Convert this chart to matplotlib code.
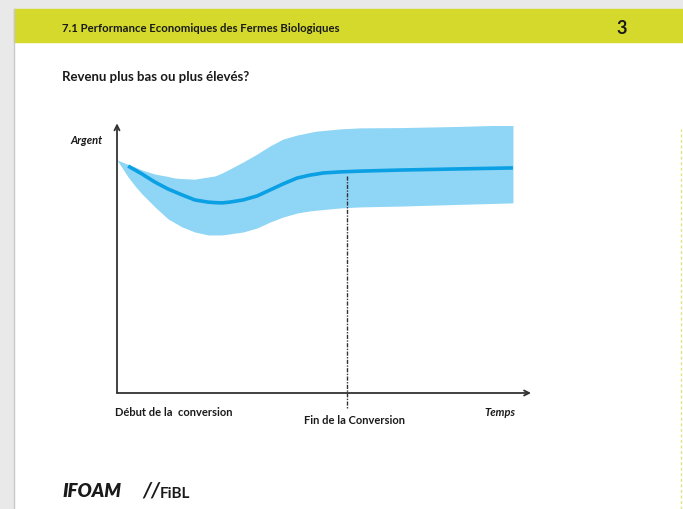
import matplotlib
matplotlib.use("Agg")
import matplotlib.pyplot as plt
from matplotlib.patches import Rectangle
from matplotlib.lines import Line2D

# data (time 0-100, money 0-100)
temps = [0, 2.7, 4.4, 6.1, 9.2, 12.4, 14.1, 15.8, 18.9, 22.1, 23.8, 25.5, 27.4,
         30.6, 34.0, 37.1, 40.3, 43.7, 46.8, 48.5, 50.0, 54.1, 59.0, 68.7, 82.0, 96.1]
revenu = [87.3, 85.0, 83.5, 82.0, 79.0, 76.4, 75.3, 74.2, 72.3, 71.5, 71.3, 71.2, 71.5,
          72.3, 73.8, 76.0, 78.3, 80.5, 81.6, 82.0, 82.4, 82.8, 83.1, 83.5, 83.9, 84.3]
revenu_haut = [87.3, 85.6, 84.6, 83.5, 82.0, 81.1, 80.5, 80.3, 80.1, 80.9, 81.3, 82.4, 83.9,
               86.5, 89.5, 92.5, 95.1, 96.6, 97.6, 98.1, 98.3, 98.9, 99.3, 99.4, 99.8, 100.4]
revenu_bas = [87.3, 80.9, 77.5, 74.5, 69.7, 65.2, 63.7, 62.2, 60.3, 59.2, 59.2, 59.2, 59.6,
              60.3, 61.8, 64.0, 65.9, 67.4, 68.2, 68.5, 68.7, 69.3, 69.7, 70.0, 70.6, 71.2]
fin_conversion = 55.8
fin_haut = 81.3

plt.rcParams['font.family'] = ['Lato', 'DejaVu Sans']

W, H = 683, 510
fig = plt.figure(figsize=(W / 100, H / 100), dpi=100)


def fx(px):
    return px / W


def fy(py):
    return 1 - py / H


# slide decoration
fig.patches.append(Rectangle((0, 0), fx(13), 1, transform=fig.transFigure,
                             color='#e9e9e9', zorder=0))
fig.patches.append(Rectangle((0, fy(10)), 1, 10 / H, transform=fig.transFigure,
                             color='#e9e9e9', zorder=0))
fig.patches.append(Rectangle((fx(14), fy(43)), 1, 33 / H, transform=fig.transFigure,
                             color='#d4d92c', zorder=1))
fig.lines.append(Line2D([fx(13.5), fx(13.5)], [0, fy(10)], transform=fig.transFigure,
                        color='#c8c8c8', lw=1))
fig.lines.append(Line2D([fx(681), fx(681)], [0, fy(130)], transform=fig.transFigure,
                        color='#e2e37a', lw=1, ls=(0, (2, 2))))

fig.text(fx(62), fy(28), '7.1 Performance Economiques des Fermes Biologiques',
         fontsize=8.2, fontweight='bold', va='center', color='#1a1a1a')
fig.text(fx(622), fy(28), '3', fontsize=13, fontweight='bold', va='center',
         ha='center', color='#1a1a1a')
fig.text(fx(62), fy(77), 'Revenu plus bas ou plus élevés?', fontsize=9.5,
         fontweight='bold', va='center', color='#1a1a1a')

# chart
ax = fig.add_axes([fx(117), fy(394), fx(412), 267 / H])
ax.set_xlim(0, 100)
ax.set_ylim(0, 100)
ax.axis('off')

ax.fill_between(temps, revenu_bas, revenu_haut, color='#8fd5f5', lw=0, zorder=1)
ax.plot(temps[1:], revenu[1:], color='#0aa0e3', lw=2.6, zorder=2,
        solid_capstyle='butt', solid_joinstyle='round')
ax.plot([fin_conversion, fin_conversion], [fin_haut, -6], color='#333333', lw=1,
        ls=(0, (3, 1, 1, 1)), zorder=3, clip_on=False)

arrow = dict(arrowstyle='->', color='#333333', lw=1.3, shrinkA=0, shrinkB=0,
             mutation_scale=9)
ax.annotate('', xy=(0, 101), xytext=(0, 0), arrowprops=arrow, annotation_clip=False)
ax.annotate('', xy=(100.5, 0), xytext=(0, 0), arrowprops=arrow, annotation_clip=False)

fig.text(fx(103), fy(141), 'Argent', fontsize=8, fontweight='bold', style='italic',
         ha='right', va='center', color='#1a1a1a')
fig.text(fx(115), fy(413), 'Début de la  conversion', fontsize=8, fontweight='bold',
         va='center', color='#1a1a1a')
fig.text(fx(355), fy(421), 'Fin de la Conversion', fontsize=8, fontweight='bold',
         ha='center', va='center', color='#1a1a1a')
fig.text(fx(515), fy(413), 'Temps', fontsize=8, fontweight='bold', style='italic',
         ha='right', va='center', color='#1a1a1a')

# logos
fig.text(fx(62), fy(492), 'IFOAM', fontsize=13.5, fontweight='heavy', style='italic',
         va='center', color='#1a1a1a')
fig.text(fx(142), fy(491), '//', fontsize=15, fontweight='bold', style='italic',
         va='center', color='#1a1a1a')
fig.text(fx(160), fy(494), 'FiBL', fontsize=11, fontweight='bold',
         va='center', color='#1a1a1a')

fig.savefig('out.png', dpi=100)
